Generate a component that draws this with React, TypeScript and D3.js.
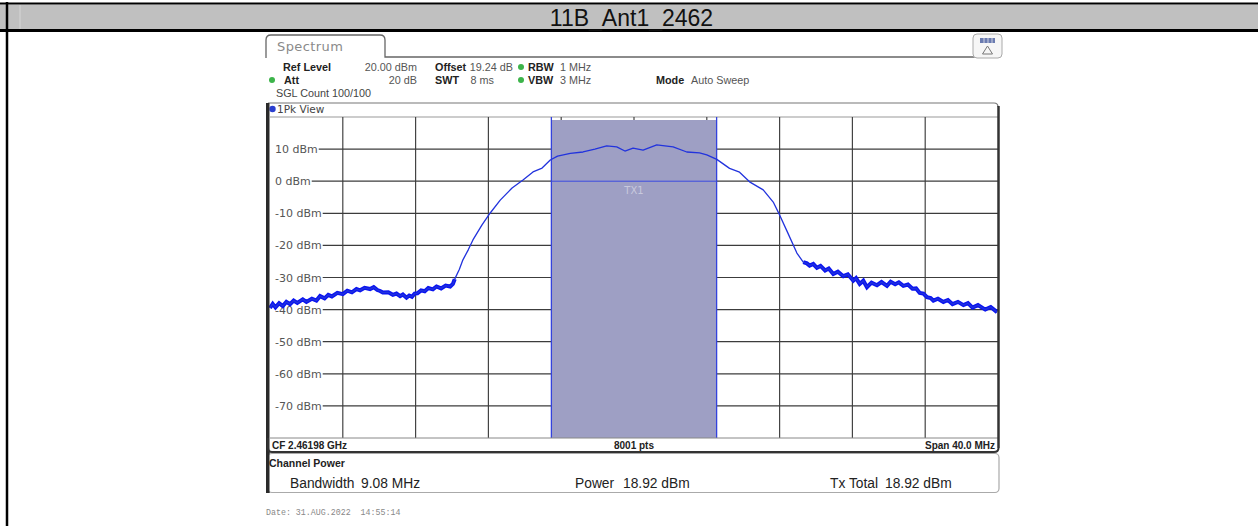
import React from "react";
import * as d3 from "d3";

// trace: offset from CF in MHz, level in dBm
const traceFreqMHz = [
  -20.0, -19.85, -19.7, -19.5, -19.3, -19.1, -18.9, -18.7, -18.5, -18.2, -18.0, -17.7, -17.45, -17.25,
  -17.0, -16.8, -16.6, -16.3, -16.0, -15.75, -15.5, -15.25, -15.05, -14.8, -14.5, -14.3, -14.1, -13.95,
  -13.8, -13.5, -13.25, -13.05, -12.85, -12.7, -12.5, -12.35, -12.2, -12.05, -11.9, -11.7, -11.5, -11.3,
  -11.05, -10.85, -10.6, -10.35, -10.1, -9.95, -9.85, -9.6, -9.4, -9.1, -8.85,
  -8.35, -7.9, -7.35, -6.7, -6.1, -5.55, -5.05, -4.6, -4.2, -3.5, -2.8, -2.15, -1.5, -0.95, -0.5,
  -0.05, 0.5, 1.25, 2.15, 2.9, 3.6, 4.0, 4.55, 5.25, 5.8, 6.35, 7.1, 7.65, 8.0, 8.45, 8.95, 9.3,
  9.5, 9.65, 9.85, 10.05, 10.25, 10.5, 10.7, 10.95, 11.2, 11.5, 11.75, 12.05, 12.2, 12.4, 12.6, 12.8,
  13.05, 13.35, 13.6, 13.9, 14.1, 14.35, 14.55, 14.8, 15.05, 15.3, 15.5, 15.7, 15.9, 16.1, 16.3, 16.45,
  16.7, 17.0, 17.25, 17.5, 17.8, 18.1, 18.35, 18.6, 18.9, 19.3, 19.6, 19.95,
];
const traceLevelDbm = [
  -39.5, -38.2, -39.3, -38.0, -38.9, -37.6, -38.3, -37.2, -37.9, -36.8, -37.6, -36.6, -37.2, -35.8,
  -36.5, -35.4, -35.9, -34.8, -35.2, -34.1, -34.6, -33.6, -34.0, -33.2, -33.6, -33.0, -33.9, -34.2,
  -34.7, -34.6, -35.4, -35.0, -35.8, -35.3, -36.3, -35.6, -36.0, -35.0, -34.9, -34.0, -34.3, -33.3,
  -33.7, -32.8, -33.4, -32.5, -32.8, -32.0, -30.5, -27.5, -24.5, -21.3, -18.3,
  -13.6, -9.9, -5.9, -2.1, 0.4, 2.9, 4.1, 6.6, 7.8, 8.7, 9.1, 10.0, 11.0, 10.7, 9.4,
  10.3, 9.7, 11.3, 10.7, 9.1, 8.8, 8.2, 6.8, 4.0, 2.8, -0.2, -2.7, -6.5, -10.5, -16.1, -22.4, -25.2,
  -25.6, -26.3, -25.8, -27.0, -26.4, -27.8, -27.2, -28.9, -28.2, -29.6, -29.0, -31.0, -30.2, -32.0, -31.0, -33.0,
  -31.6, -32.4, -31.4, -32.6, -31.3, -32.1, -31.5, -32.6, -32.2, -33.5, -33.4, -34.8, -35.0, -36.1, -36.4, -37.2,
  -36.6, -37.6, -37.0, -38.3, -37.6, -38.6, -38.0, -39.4, -38.6, -40.0, -39.2, -40.8,
];

const yTickDbm = [10, 0, -10, -20, -30, -40, -50, -60, -70];
const xGridMHz = [-16, -12, -8, -4, 0, 4, 8, 12, 16];
const spanMHz = [-20, 20];
const levelRange = [-80, 20];
const channelBwMHz = 9.08;
const channelLevelDbm = 0;

const title = "11B_Ant1_2462";
const footerLabels = ["CF 2.46198 GHz", "8001 pts", "Span 40.0 MHz"];
const resultLabels = ["Bandwidth", "9.08 MHz", "Power", "18.92 dBm", "Tx Total", "18.92 dBm"];

const ctx = document.createElement("canvas").getContext("2d");
const textWidth = (t: string, font: string) => {
  if (!ctx) return t.length * 6.6;
  ctx.font = font;
  return ctx.measureText(t).width;
};

const SANS = "'DejaVu Sans', sans-serif";
const ARIAL = "'Liberation Sans', Arial, sans-serif";

export default function App() {
  const left = 270;
  const right = 998;
  const top = 117;
  const bottom = 438;

  const x = d3.scaleLinear().domain(spanMHz).range([left, right]);
  const y = d3.scaleLinear().domain(levelRange).range([bottom, top]);

  const pts: [number, number][] = traceFreqMHz.map((f, i) => [f, traceLevelDbm[i]]);
  const line = d3
    .line<[number, number]>()
    .x((d) => x(d[0]))
    .y((d) => y(d[1]));
  const noisyLeft = pts.filter((d) => d[0] <= -9.85);
  const noisyRight = pts.filter((d) => d[0] >= 9.3);

  const ch0 = x(-channelBwMHz / 2);
  const ch1 = x(channelBwMHz / 2);

  const labelFont = `11px ${SANS}`;

  return (
    <svg width={1258} height={526} style={{ position: "absolute", left: 0, top: 0, background: "#fff" }}>
      {/* title bar */}
      <rect x={0} y={4.5} width={1258} height={25} fill="#c0c0c0" />
      <line x1={0} x2={1258} y1={3.5} y2={3.5} stroke="#000" strokeWidth={2} />
      <line x1={0} x2={1258} y1={30.5} y2={30.5} stroke="#000" strokeWidth={3} />
      <line x1={20} x2={20} y1={5} y2={29} stroke="#d6d6d6" />
      <line x1={7} x2={7} y1={2} y2={526} stroke="#000" strokeWidth={2.5} />
      <text x={631.5} y={25.5} fontSize={23} fontFamily={ARIAL} textAnchor="middle" fill="#111">
        {title}
      </text>

      {/* spectrum tab */}
      <path
        d="M266,58 V40 Q266,35 271,35 H380 Q385,35 385,40 V57 H1000"
        fill="none"
        stroke="#666"
        strokeWidth={1.3}
      />
      <text x={277} y={51} fontSize={13} fontFamily={SANS} fill="#8a8a8a" letterSpacing={0.4}>
        Spectrum
      </text>
      <rect x={973} y={34} width={29} height={24} rx={4} fill="#f6f6f6" stroke="#aaa" />
      <rect x={980} y={38} width={15} height={5} fill="#6a7bb0" />
      {[984, 988, 992].map((v) => (
        <line key={v} x1={v} x2={v} y1={38} y2={43} stroke="#e8e8f0" strokeWidth={0.8} />
      ))}
      <path d="M987.5,46 L982.5,54 L992.5,54 Z" fill="none" stroke="#777" strokeWidth={1} />

      {/* settings */}
      <g fontSize={10.8} fontFamily={ARIAL}>
        <text x={283} y={70.5} fontWeight="bold" fill="#222">Ref Level</text>
        <text x={417} y={70.5} textAnchor="end" fill="#555">20.00 dBm</text>
        <text x={435} y={70.5} fontWeight="bold" fill="#222">Offset</text>
        <text x={513} y={70.5} textAnchor="end" fill="#555">19.24 dB</text>
        <circle cx={521} cy={67} r={3} fill="#3cb44a" />
        <text x={528} y={70.5} fontWeight="bold" fill="#222">RBW</text>
        <text x={560} y={70.5} fill="#555">1 MHz</text>

        <circle cx={272} cy={80} r={3} fill="#3cb44a" />
        <text x={284} y={83.5} fontWeight="bold" fill="#222">Att</text>
        <text x={417} y={83.5} textAnchor="end" fill="#555">20 dB</text>
        <text x={435} y={83.5} fontWeight="bold" fill="#222">SWT</text>
        <text x={494} y={83.5} textAnchor="end" fill="#555">8 ms</text>
        <circle cx={521} cy={80} r={3} fill="#3cb44a" />
        <text x={528} y={83.5} fontWeight="bold" fill="#222">VBW</text>
        <text x={560} y={83.5} fill="#555">3 MHz</text>
        <text x={656} y={83.5} fontWeight="bold" fill="#222">Mode</text>
        <text x={691} y={83.5} fill="#555">Auto Sweep</text>

        <text x={276} y={97} fill="#444">SGL Count 100/100</text>
      </g>

      {/* view window frame */}
      <path d="M268,103 H994 Q998,103 998,107" fill="none" stroke="#777" strokeWidth={1.2} />
      <circle cx={272.5} cy={109} r={3.2} fill="#2b3fcf" />
      <text x={277} y={112.5} fontSize={10.5} fontFamily={SANS} fill="#444">1Pk View</text>
      <line x1={left} x2={right} y1={top} y2={top} stroke="#9a9a9a" strokeWidth={1.2} />

      {/* grid */}
      {xGridMHz.map((f) => (
        <line key={f} x1={x(f)} x2={x(f)} y1={top} y2={bottom} stroke="#444" strokeWidth={1.2} />
      ))}
      {yTickDbm.map((v) => {
        const label = `${v} dBm`;
        const w = textWidth(label, labelFont);
        return (
          <g key={v}>
            <line x1={275 + w + 1} x2={right} y1={y(v)} y2={y(v)} stroke="#3c3c3c" strokeWidth={1.2} />
            <text x={275} y={y(v) + 4} fontSize={11} fontFamily={SANS} fill="#555">
              {label}
            </text>
          </g>
        );
      })}

      {/* channel power bar */}
      <rect x={ch0} y={top + 3} width={ch1 - ch0} height={bottom - top - 3} fill="#9e9fc4" />
      <line x1={ch0} x2={ch0} y1={top} y2={bottom} stroke="#3342dd" strokeWidth={1.3} />
      <line x1={ch1} x2={ch1} y1={top} y2={bottom} stroke="#3342dd" strokeWidth={1.3} />
      <line x1={ch0} x2={ch1} y1={y(channelLevelDbm)} y2={y(channelLevelDbm)} stroke="#3a4ae0" strokeWidth={1} />
      <text x={(ch0 + ch1) / 2} y={y(channelLevelDbm) + 13} fontSize={10} fontFamily={SANS} textAnchor="middle" fill="#c8c9de">
        TX1
      </text>

      {/* trace */}
      <path d={line(noisyLeft) ?? ""} fill="none" stroke="#0a14f0" strokeWidth={4} strokeLinejoin="miter" />
      <path d={line(noisyRight) ?? ""} fill="none" stroke="#0a14f0" strokeWidth={4} strokeLinejoin="miter" />
      <path d={line(pts) ?? ""} fill="none" stroke="#2233dd" strokeWidth={1.3} strokeLinejoin="round" />

      {/* frame edges */}
      <line x1={left} x2={right} y1={bottom} y2={bottom} stroke="#888" />
      <rect x={266} y={103} width={3.5} height={390} fill="#2a2a2a" />
      <line x1={998.5} x2={998.5} y1={106} y2={448} stroke="#333" strokeWidth={2.5} />
      <path d="M268,438 V448 Q268,452 272,452 H994 Q998.5,452 998.5,448" fill="none" stroke="#333" strokeWidth={2} />

      <g fontSize={10} fontFamily={ARIAL} fontWeight="bold" fill="#222">
        <text x={272} y={449}>{footerLabels[0]}</text>
        <text x={634} y={449} textAnchor="middle">{footerLabels[1]}</text>
        <text x={995} y={449} textAnchor="end">{footerLabels[2]}</text>
      </g>

      {/* result panel */}
      <rect x={268} y={453.5} width={731} height={39} rx={4} fill="#fff" stroke="#aaa" strokeWidth={1.2} />
      <rect x={266} y={452} width={3.5} height={41} fill="#2a2a2a" />
      <text x={269} y={466.5} fontSize={10.5} fontFamily={ARIAL} fontWeight="bold" fill="#222">
        Channel Power
      </text>
      <g fontSize={13.8} fontFamily={ARIAL} fill="#222">
        <text x={290} y={488}>{resultLabels[0]}</text>
        <text x={361} y={488}>{resultLabels[1]}</text>
        <text x={575} y={488}>{resultLabels[2]}</text>
        <text x={623} y={488}>{resultLabels[3]}</text>
        <text x={830} y={488}>{resultLabels[4]}</text>
        <text x={885} y={488}>{resultLabels[5]}</text>
      </g>

      <text x={266} y={515} fontSize={8.3} fontFamily="'Liberation Mono', monospace" fill="#888" xmlSpace="preserve">
        Date: 31.AUG.2022  14:55:14
      </text>
    </svg>
  );
}
